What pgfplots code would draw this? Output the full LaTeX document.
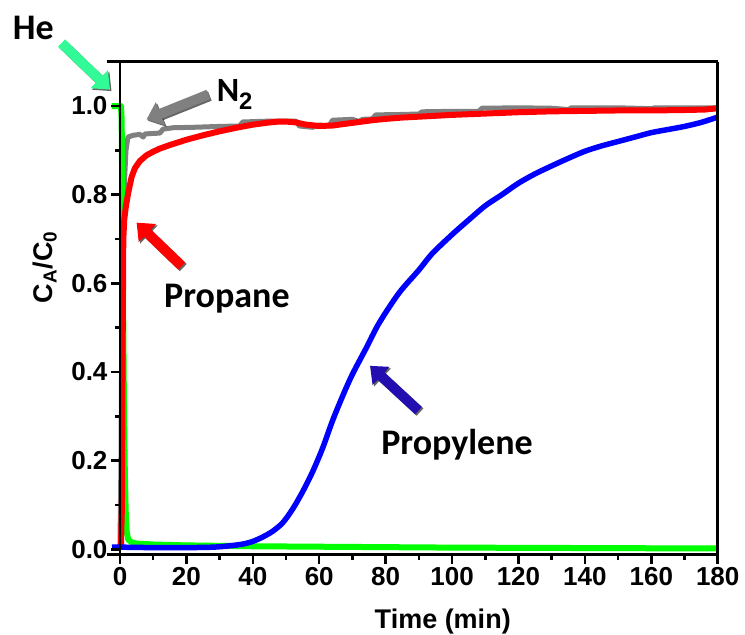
\documentclass[border=0pt]{standalone}
\usepackage{pgfplots}
\pgfplotsset{compat=1.18}
\usepackage{fontspec}
\setmainfont{Liberation Sans}
\newfontfamily\carl{Carlito}
\usetikzlibrary{arrows.meta}
\definecolor{hearrow}{RGB}{50,250,150}
\definecolor{pyarrow}{RGB}{35,15,175}
\definecolor{ngrey}{RGB}{128,128,128}
\tikzset{
  blockarrow/.style={line width=10pt, -{Triangle[width=24pt,length=15pt]}},
  shadowarrow/.style={black, opacity=0.6, line width=10pt, -{Triangle[width=24pt,length=15pt]}, transform canvas={shift={(1.5pt,-1.5pt)}}},
}
\pgfplotsset{
  common/.style={
    scale only axis, height=493pt, ymin=-0.012, ymax=1.10,
    tick align=outside,
    major tick length=9pt, minor tick length=5pt,
    every tick/.style={black, line width=2.5pt},
    every minor tick/.style={black, line width=2.5pt},
    axis line style={black, line width=2.8pt},
    /pgf/number format/assume math mode=true,
    tick label style={font=\bfseries\fontsize{26}{30}\selectfont},
  }
}
\begin{document}
\begin{tikzpicture}
\begin{axis}[common,
  at={(0pt,0pt)}, anchor=south west,
  width=611pt, xmin=-4, xmax=180,
  axis x line*=box, axis y line=none,
  xtick pos=bottom,
  xtick={0,20,...,180}, minor x tick num=1,
  clip=false,
]
\addplot[ngrey, line width=5pt, line join=round] coordinates {
(-0.5,0.004)(0.0,0.01)(0.3,0.2)(0.6,0.55)(0.9,0.74)(1.3,0.82)(1.8,0.9)(2.4,0.93)
(4,0.934)(6,0.936)(7,0.930)(7.5,0.937)(12,0.939)(13,0.948)(16,0.951)(22,0.952)
(30,0.954)(36,0.955)(37,0.964)(45,0.966)(53,0.966)(54,0.955)(58,0.952)(60,0.957)
(63,0.955)(64,0.968)(70,0.970)(72,0.965)(73,0.970)(76,0.971)(77,0.980)(85,0.981)
(90,0.982)(91,0.987)(100,0.988)(108,0.988)(109,0.995)(120,0.996)(130,0.995)
(135,0.992)(136,0.996)(150,0.996)(160,0.994)(161,0.996)(180,0.996)};
\addplot[green, line width=6pt, line join=round] coordinates {
(-2.5,1.0)(0.3,1.0)(0.5,0.97)(0.8,0.7)(1.1,0.4)(1.4,0.2)(1.7,0.09)(2.0,0.04)
(2.5,0.022)(3.5,0.016)(5,0.013)(10,0.011)(20,0.009)(40,0.007)(60,0.006)
(100,0.004)(140,0.003)(180,0.002)};
\addplot[red, line width=6pt, line join=round] coordinates {
(-0.3,0.004)(0.3,0.008)(0.6,0.1)(0.8,0.45)(1.0,0.7)(1.3,0.745)(1.8,0.775)
(2.5,0.805)(3.5,0.84)(4.5,0.86)(6,0.876)(8,0.889)(10,0.897)(12,0.904)(15,0.912)
(20,0.924)(25,0.934)(30,0.943)(35,0.951)(40,0.958)(45,0.963)(48,0.965)(50,0.965)(53,0.963)
(56,0.958)(60,0.955)(64,0.956)(68,0.960)(72,0.964)(76,0.968)(80,0.971)(85,0.974)
(90,0.976)(95,0.978)(100,0.98)(110,0.983)(120,0.986)(130,0.988)(140,0.989)
(150,0.99)(160,0.99)(170,0.991)(176,0.992)(180,0.995)};
\addplot[blue, line width=5.5pt, smooth, tension=0.5] coordinates {
(-2.4,0.005)(0,0.005)(10,0.004)(20,0.004)(28,0.005)(33,0.008)(37,0.012)(40,0.018)
(43,0.028)(46,0.041)(49,0.06)(52,0.091)(55,0.13)(58,0.175)(61,0.228)(64,0.29)
(67,0.345)(70,0.395)(74,0.452)(78,0.51)(84,0.578)(90,0.63)(94,0.667)(100,0.71)
(105,0.743)(110,0.775)(115,0.8)(120,0.826)(125,0.847)(130,0.865)(135,0.882)
(140,0.898)(145,0.91)(150,0.92)(155,0.93)(160,0.94)(165,0.947)(170,0.954)
(175,0.963)(180,0.975)};
% right frame line
\draw[black, line width=2.8pt] (rel axis cs:1,0) -- (rel axis cs:1,1);
% labels
\node[font=\bfseries\fontsize{27}{30}\selectfont, anchor=center] at ([yshift=-67pt]rel axis cs:0.55,0) {Time (min)};
\node[font=\bfseries\fontsize{27}{30}\selectfont, rotate=90, anchor=center] at ([xshift=-62pt]rel axis cs:0,0.583) {C$_{\mathbf{A}}$/C$_{\mathbf{0}}$};
% annotation arrows
\draw[shadowarrow] (axis cs:-17.6,1.142) -- (axis cs:-3.0,1.037);
\draw[hearrow, blockarrow] (axis cs:-17.6,1.142) -- (axis cs:-3.0,1.037);
\draw[shadowarrow] (axis cs:26.6,1.026) -- (axis cs:8.0,0.970);
\draw[ngrey, blockarrow] (axis cs:26.6,1.026) -- (axis cs:8.0,0.970);
\draw[shadowarrow] (axis cs:18.6,0.639) -- (axis cs:5.0,0.737);
\draw[red, blockarrow] (axis cs:18.6,0.639) -- (axis cs:5.0,0.737);
\draw[shadowarrow] (axis cs:89.9,0.313) -- (axis cs:75.3,0.414);
\draw[pyarrow, blockarrow] (axis cs:89.9,0.313) -- (axis cs:75.3,0.414);
\node[font=\carl\bfseries\fontsize{36}{40}\selectfont, anchor=base] at (axis cs:-26.1,1.150) {He};
\node[font=\carl\bfseries\fontsize{34}{40}\selectfont, anchor=base west, inner sep=0pt] at (axis cs:29.1,1.011) {N$_{\mathbf{2}}$};
\node[font=\carl\bfseries\fontsize{36}{40}\selectfont, anchor=base] at (axis cs:32.2,0.545) {Propane};
\node[font=\carl\bfseries\fontsize{36}{40}\selectfont, anchor=base] at (axis cs:101.5,0.215) {Propylene};
\coordinate (ll) at (rel axis cs:0,0);
\coordinate (ur) at (rel axis cs:1,1);
\end{axis}
% y axis at x = 0
\begin{axis}[common,
  at={(13.28pt,0pt)}, anchor=south west,
  width=597.72pt, xmin=0, xmax=180,
  axis x line=none, axis y line*=left,
  ytick pos=left,
  ytick={0,0.2,...,1.0}, minor y tick num=1,
  yticklabel style={/pgf/number format/.cd, fixed, fixed zerofill, precision=1},
]
\addplot[draw=none] coordinates {(0,0)};
\end{axis}
\pgfresetboundingbox
\path ([shift={(-106.7pt,-79.5pt)}]ll) rectangle ([shift={(27.3pt,61.7pt)}]ur);
\end{tikzpicture}
\end{document}
